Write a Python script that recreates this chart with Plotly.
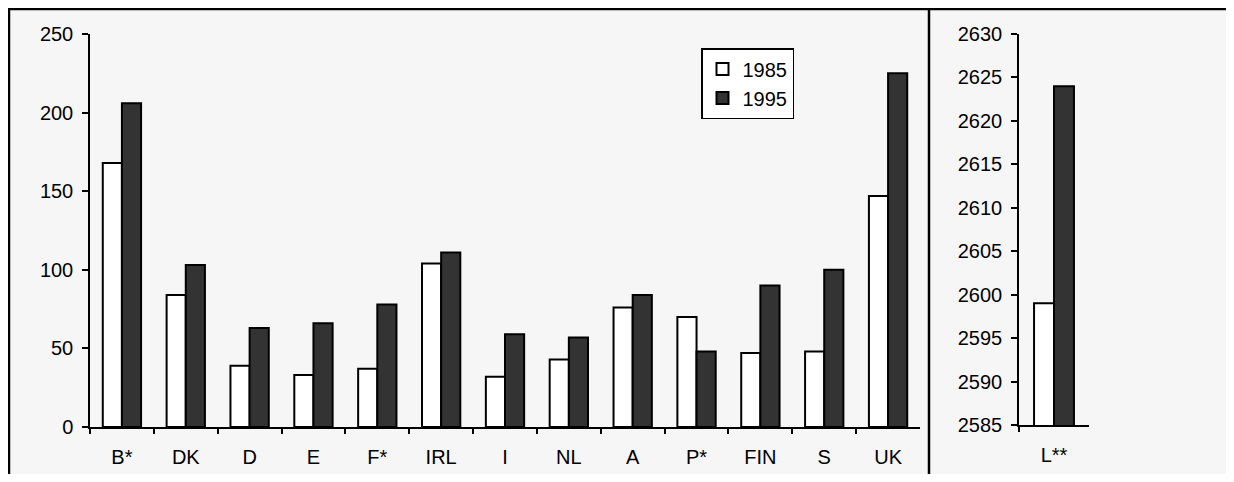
import plotly.graph_objects as go

categories = ["B*", "DK", "D", "E", "F*", "IRL", "I", "NL", "A", "P*", "FIN", "S", "UK"]
values_1985 = [168, 84, 39, 33, 37, 104, 32, 43, 76, 70, 47, 48, 147]
values_1995 = [206, 103, 63, 66, 78, 111, 59, 57, 84, 48, 90, 100, 225]

lux_category = ["L**"]
lux_1985 = [2599]
lux_1995 = [2624]

OFF = 8  # page body margin
W, H = 1234 - 2 * OFF, 482 - 2 * OFF


def px(x):
    return (x - OFF) / W


def py(y):
    return 1 - (y - OFF) / H


FONT = "Liberation Sans, Arial, sans-serif"
dark = "#333333"
bw = 0.30
bw2 = 0.285

fig = go.Figure()
fig.add_trace(go.Bar(x=categories, y=values_1985, name="1985", legendgroup="1985",
                     marker=dict(color="white", line=dict(color="black", width=2)),
                     width=bw, offset=-bw, xaxis="x", yaxis="y"))
fig.add_trace(go.Bar(x=categories, y=values_1995, name="1995", legendgroup="1995",
                     marker=dict(color=dark, line=dict(color="black", width=2)),
                     width=bw, offset=0, xaxis="x", yaxis="y"))
fig.add_trace(go.Bar(x=lux_category, y=lux_1985, name="1985", legendgroup="1985", showlegend=False,
                     marker=dict(color="white", line=dict(color="black", width=2)),
                     width=bw2, offset=-bw2, xaxis="x2", yaxis="y2"))
fig.add_trace(go.Bar(x=lux_category, y=lux_1995, name="1995", legendgroup="1995", showlegend=False,
                     marker=dict(color=dark, line=dict(color="black", width=2)),
                     width=bw2, offset=0, xaxis="x2", yaxis="y2"))

axis_common = dict(showgrid=False, zeroline=False, showline=True, linecolor="black", linewidth=1.5,
                   ticks="outside", tickcolor="black", tickwidth=1.5, automargin=False,
                   tickfont=dict(family=FONT, size=20, color="black"))

fig.update_layout(
    width=W, height=H,
    margin=dict(l=0, r=0, t=0, b=0, autoexpand=False),
    paper_bgcolor="#f6f6f6", plot_bgcolor="rgba(0,0,0,0)",
    font=dict(family=FONT, size=20, color="black"),
    barmode="overlay",
    showlegend=True,
    legend=dict(x=px(701), y=py(48), xanchor="left", yanchor="top",
                bgcolor="white", bordercolor="black", borderwidth=1.5,
                font=dict(family=FONT, size=20, color="black"),
                itemwidth=30, tracegroupgap=0),
    xaxis=dict(domain=[px(90), px(920)], range=[-0.5, 12.5], tickson="boundaries", ticklen=5,
               ticklabelstandoff=11, anchor="y", **axis_common),
    yaxis=dict(domain=[py(427), py(34)], range=[0, 250], dtick=50, ticklen=6,
               ticklabelstandoff=5, anchor="x", **axis_common),
    xaxis2=dict(domain=[px(1019), px(1089)], range=[-0.5, 0.5], tickson="boundaries", ticklen=5,
                ticklabelstandoff=11, anchor="y2", **axis_common),
    yaxis2=dict(domain=[py(425), py(34)], range=[2585, 2630], dtick=5, ticklen=6,
                ticklabelstandoff=5, anchor="x2", **axis_common),
)

# outer frame lines
fig.add_shape(type="line", xref="paper", yref="paper", x0=px(8), x1=1, y0=py(9), y1=py(9),
              line=dict(color="black", width=2.5))
fig.add_shape(type="line", xref="paper", yref="paper", x0=px(9), x1=px(9), y0=0, y1=py(9),
              line=dict(color="black", width=2.5))
fig.add_shape(type="line", xref="paper", yref="paper", x0=px(929), x1=px(929), y0=0, y1=py(9),
              line=dict(color="black", width=2.5))

fig.write_html("out.html")
